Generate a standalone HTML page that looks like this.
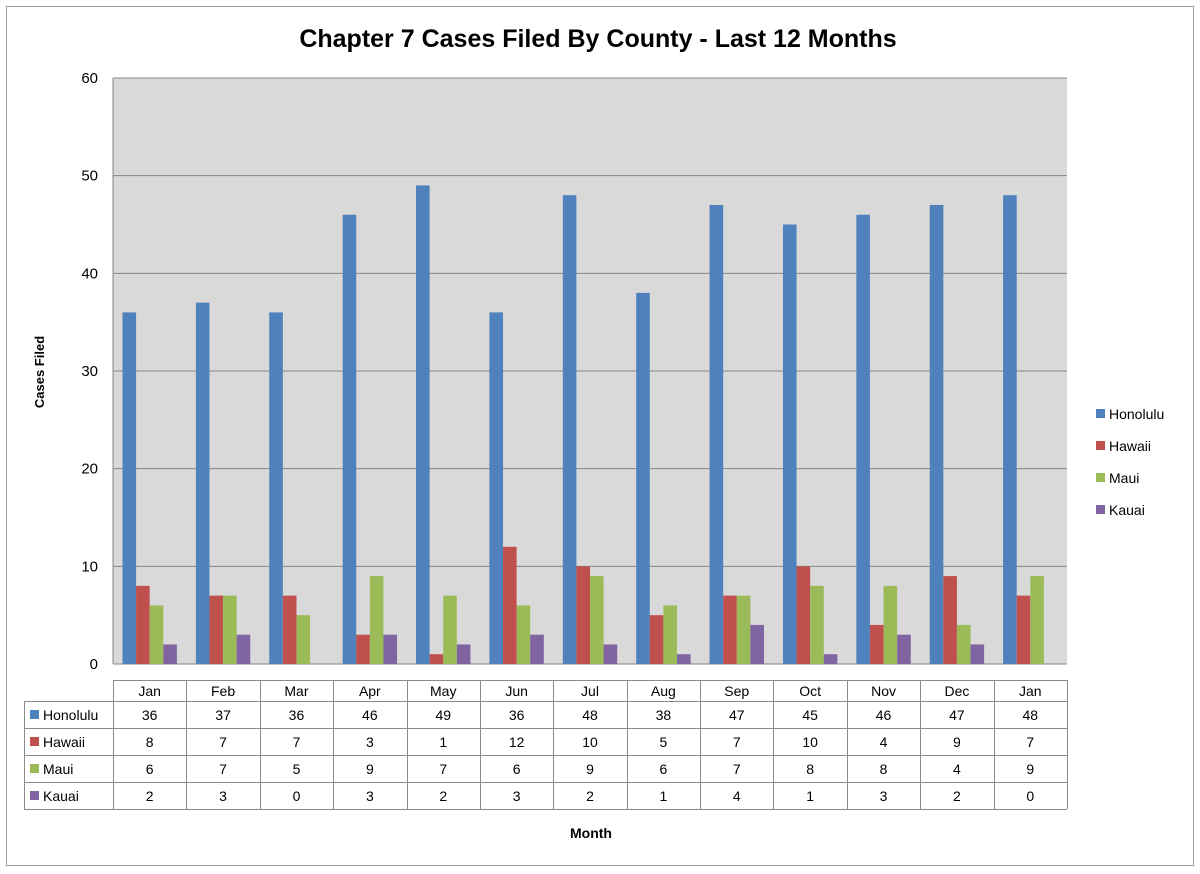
<!DOCTYPE html>
<html><head><meta charset="utf-8"><style>
body{margin:0;background:#fff;}
svg{display:block;font-family:"Liberation Sans",Arial,sans-serif;}
</style></head><body>
<svg id="s" width="1200" height="874" xmlns="http://www.w3.org/2000/svg"></svg>
<script>
const S=document.getElementById('s');
let h='';
h+='<rect x="6.5" y="6.5" width="1187" height="859" fill="#fff" stroke="#9a9a9a"/>';
h+='<text x="598" y="47" text-anchor="middle" font-size="25" font-weight="bold" fill="#000">Chapter 7 Cases Filed By County - Last 12 Months</text>';
const X0=113,X1=1067,Y0=78,Y1=664;
h+=`<rect x="${X0}" y="${Y0}" width="${X1-X0}" height="${Y1-Y0}" fill="#d9d9d9"/>`;
for(let v=0;v<=60;v+=10){const y=Y1-(Y1-Y0)*v/60;
 h+=`<line x1="${X0}" x2="${X1}" y1="${y}" y2="${y}" stroke="#868686" stroke-width="1"/>`;
 h+=`<text x="98" y="${y+5}" text-anchor="end" font-size="15" fill="#000">${v}</text>`;}
h+=`<line x1="${X0}" x2="${X0}" y1="${Y0}" y2="${Y1}" stroke="#868686"/>`;
const m=["Jan","Feb","Mar","Apr","May","Jun","Jul","Aug","Sep","Oct","Nov","Dec","Jan"];
const names=["Honolulu","Hawaii","Maui","Kauai"];
const col=["#4f81bd","#c0504d","#9bbb59","#8064a2"];
const d=[[36,37,36,46,49,36,48,38,47,45,46,47,48],[8,7,7,3,1,12,10,5,7,10,4,9,7],[6,7,5,9,7,6,9,6,7,8,8,4,9],[2,3,0,3,2,3,2,1,4,1,3,2,0]];
const w=(X1-X0)/13,bw=13.6,off=(w-4*bw)/2;
for(let i=0;i<13;i++)for(let s=0;s<4;s++){const v=d[s][i];if(!v)continue;const bh=(Y1-Y0)*v/60;
 h+=`<rect x="${X0+i*w+off+s*bw}" y="${Y1-bh}" width="${bw}" height="${bh}" fill="${col[s]}"/>`;}
// table
const ry=[680,701,728,755,782,809];
const L="#8a8a8a";
h+=`<line x1="${X0}" x2="${X1}" y1="680.5" y2="680.5" stroke="${L}"/>`;
for(let r=1;r<6;r++)h+=`<line x1="24" x2="${X1}" y1="${ry[r]+.5}" y2="${ry[r]+.5}" stroke="${L}"/>`;
h+=`<line x1="24.5" x2="24.5" y1="701" y2="809" stroke="${L}"/>`;
for(let i=0;i<=13;i++){const x=Math.round(X0+i*w)+.5;h+=`<line x1="${x}" x2="${x}" y1="680" y2="809" stroke="${L}"/>`;}
for(let i=0;i<13;i++){const cx=X0+i*w+w/2;
 h+=`<text x="${cx}" y="696" text-anchor="middle" font-size="14">${m[i]}</text>`;
 for(let s=0;s<4;s++)h+=`<text x="${cx}" y="${ry[s+1]+19}" text-anchor="middle" font-size="14">${d[s][i]}</text>`;}
for(let s=0;s<4;s++){h+=`<rect x="30" y="${ry[s+1]+9}" width="9" height="9" fill="${col[s]}"/>`;
 h+=`<text x="43" y="${ry[s+1]+19}" font-size="14">${names[s]}</text>`;}
// legend
const ly=[414,446,478,510];
for(let s=0;s<4;s++){h+=`<rect x="1096" y="${ly[s]-5}" width="9" height="9" fill="${col[s]}"/>`;
 h+=`<text x="1109" y="${ly[s]+5}" font-size="14">${names[s]}</text>`;}
h+='<text x="591" y="838" text-anchor="middle" font-size="14" font-weight="bold">Month</text>';
h+='<text transform="translate(44,372) rotate(-90)" text-anchor="middle" font-size="13" font-weight="bold">Cases Filed</text>';
S.innerHTML=h;
</script>
</body></html>
